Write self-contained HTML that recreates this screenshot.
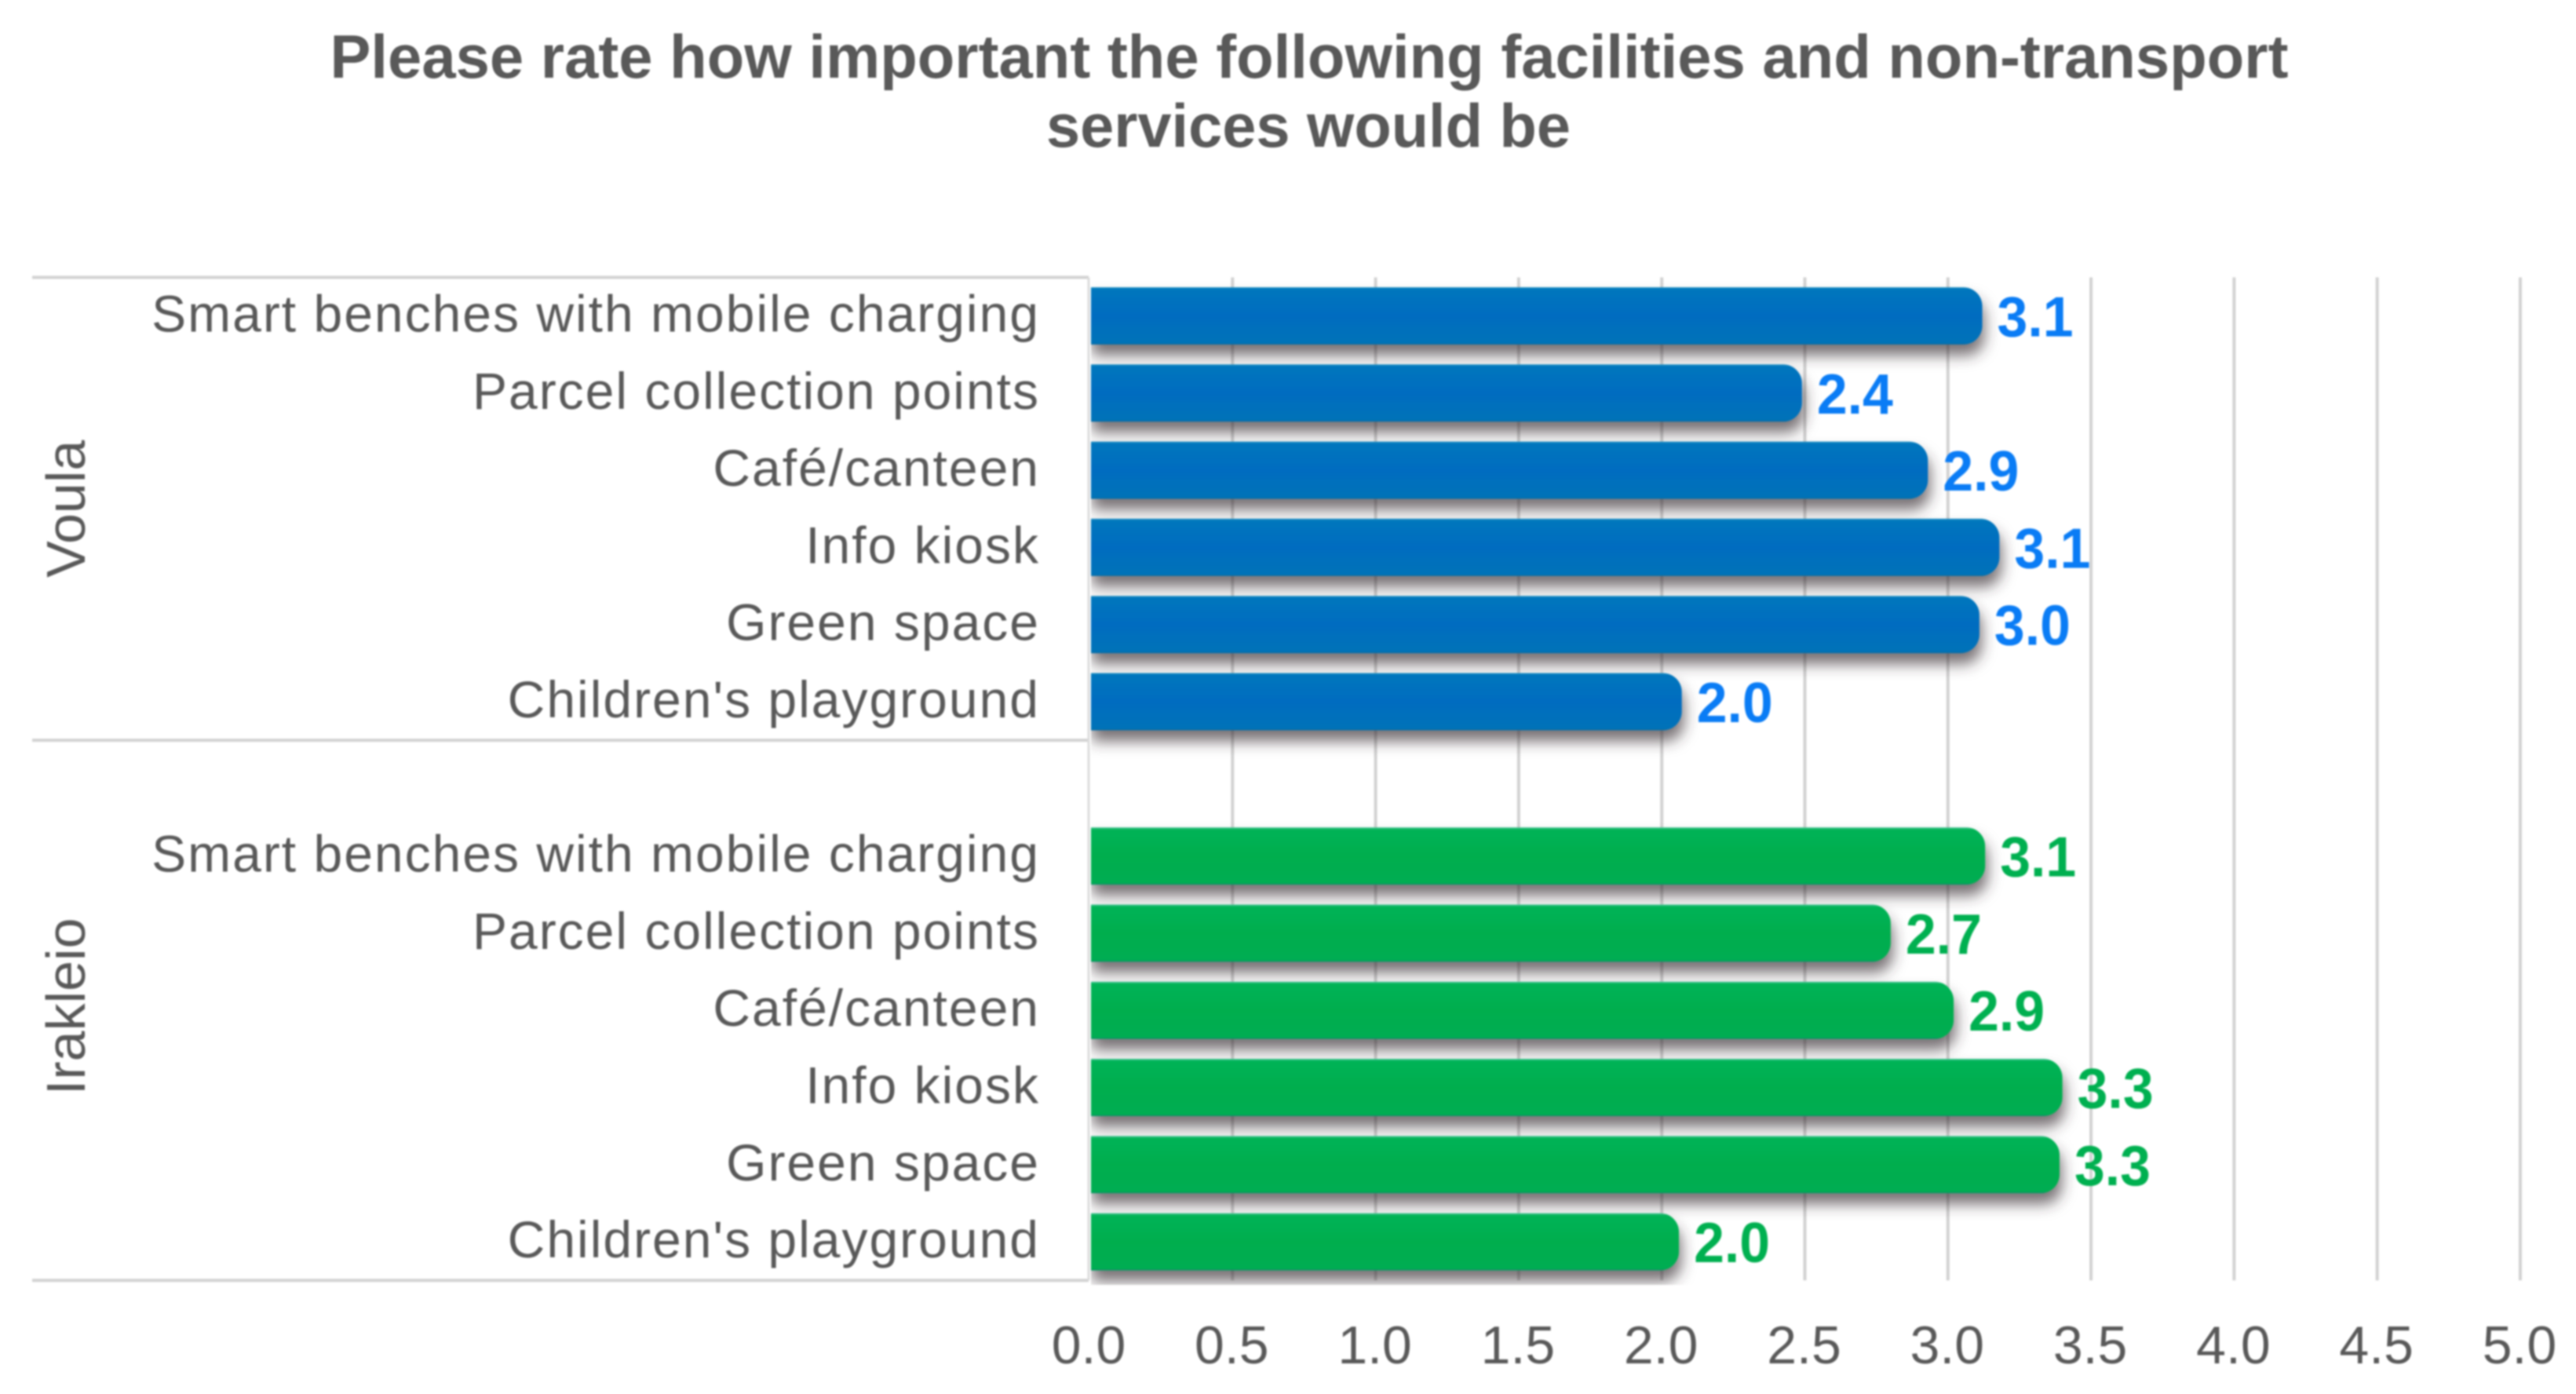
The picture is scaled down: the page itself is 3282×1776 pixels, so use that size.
<!DOCTYPE html>
<html lang="en">
<head>
<meta charset="utf-8">
<title>Facilities and non-transport services rating</title>
<style>
  html, body { margin: 0; padding: 0; background: #ffffff; }
  body { width: 3282px; height: 1776px; overflow: hidden; }
  svg { display: block; filter: blur(1px); }
  text { font-family: "Liberation Sans", Arial, sans-serif; }
</style>
</head>
<body>
<svg id="chart" xmlns="http://www.w3.org/2000/svg" width="3282" height="1776" viewBox="0 0 3282 1776">
  <defs>
    <linearGradient id="blue-fill" x1="0" y1="0" x2="0" y2="1">
      <stop offset="0" stop-color="#1b8fc4"/>
      <stop offset="0.04" stop-color="#0076bd"/>
      <stop offset="0.5" stop-color="#006cc0"/>
      <stop offset="0.97" stop-color="#0073b8"/>
      <stop offset="1" stop-color="#0b6a9e"/>
    </linearGradient>
    <linearGradient id="green-fill" x1="0" y1="0" x2="0" y2="1">
      <stop offset="0" stop-color="#4cc79a"/>
      <stop offset="0.04" stop-color="#00b356"/>
      <stop offset="0.5" stop-color="#00ae4e"/>
      <stop offset="0.97" stop-color="#00ad52"/>
      <stop offset="1" stop-color="#0c8c6a"/>
    </linearGradient>
    <filter id="bar-shadow" x="-5%" y="-20%" width="110%" height="180%">
      <feDropShadow dx="3" dy="14" stdDeviation="9" flood-color="#3a3034" flood-opacity="0.68"/>
    </filter>
    <clipPath id="plot-clip">
      <rect x="1390" y="300" width="1892" height="1337"/>
    </clipPath>
  </defs>
  <rect x="0" y="0" width="3282" height="1776" fill="#ffffff"/>
  <g fill="#595959" font-weight="700" font-size="78" text-anchor="middle">
    <text x="1668" y="99" textLength="2495" lengthAdjust="spacingAndGlyphs">Please rate how important the following facilities and non-transport</text>
    <text x="1667" y="187" textLength="668" lengthAdjust="spacingAndGlyphs">services would be</text>
  </g>
  <g id="grid"></g>
  <g id="frame"></g>
  <g id="bars" clip-path="url(#plot-clip)"></g>
  <g id="value-labels"></g>
  <g id="category-labels"></g>
  <g id="group-labels"></g>
  <g id="tick-labels"></g>
</svg>
<script>
const categories = ["Smart benches with mobile charging", "Parcel collection points", "Café/canteen", "Info kiosk", "Green space", "Children's playground"];
const groupNames = ["Voula", "Irakleio"];
const voulaValues = [3.12, 2.49, 2.93, 3.18, 3.11, 2.07];
const irakleioValues = [3.13, 2.80, 3.02, 3.40, 3.39, 2.06];
const voulaPrinted = ["3.1", "2.4", "2.9", "3.1", "3.0", "2.0"];
const irakleioPrinted = ["3.1", "2.7", "2.9", "3.3", "3.3", "2.0"];
const tickValues = [0, 0.5, 1, 1.5, 2, 2.5, 3, 3.5, 4, 4.5, 5];
const tickLabels = ["0.0", "0.5", "1.0", "1.5", "2.0", "2.5", "3.0", "3.5", "4.0", "4.5", "5.0"];

const NS = "http://www.w3.org/2000/svg";
function xScale(v) { return 1388 + v * 364.6; }
function rowCenter(i) { return 402.5 + i * 98.3; }
function make(tag, attrs, parent) {
  const el = document.createElementNS(NS, tag);
  for (const k in attrs) el.setAttribute(k, attrs[k]);
  parent.appendChild(el);
  return el;
}
function slug(s) { return s.toLowerCase().replace(/[^a-z0-9]+/g, "-").replace(/^-|-$/g, ""); }

const gridLayer = document.getElementById("grid");
const frameLayer = document.getElementById("frame");
const barLayer = document.getElementById("bars");
const valueLayer = document.getElementById("value-labels");
const catLayer = document.getElementById("category-labels");
const groupLayer = document.getElementById("group-labels");
const tickLayer = document.getElementById("tick-labels");

const axisTop = rowCenter(-0.5);
const axisMid = rowCenter(5.5);
const axisBottom = rowCenter(12.5);

tickValues.forEach(function (v, i) {
  if (v > 0) {
    const line = make("line", { x1: xScale(v), x2: xScale(v), y1: axisTop, y2: axisBottom, stroke: "#d2d2d2", "stroke-width": 4 }, gridLayer);
    
    
  }
  const t = make("text", { x: xScale(v) - 1, y: 1737, fill: "#595959", "font-size": 68, "text-anchor": "middle" }, tickLayer);
  t.textContent = tickLabels[i];
  
  
});

[axisTop, axisMid, axisBottom].forEach(function (y) {
  const line = make("line", { x1: 41, x2: 1387, y1: y, y2: y, stroke: "#d2d2d2", "stroke-width": 4 }, frameLayer);
  
  
});
const axisLine = make("line", { x1: 1387, x2: 1387, y1: axisTop, y2: axisBottom, stroke: "#dcdcdc", "stroke-width": 3 }, frameLayer);



function drawGroup(values, printed, firstRow, fill, labelColor, key) {
  const barH = 73;
  const r = 24;
  values.forEach(function (v, i) {
    const cy = rowCenter(firstRow + i);
    const x0 = xScale(0);
    const x1 = xScale(v);
    const top = cy - barH / 2;
    const bot = cy + barH / 2;
    const d = "M" + x0 + "," + top + " H" + (x1 - r) + " A" + r + "," + r + " 0 0 1 " + x1 + "," + (top + r) +
      " V" + (bot - r) + " A" + r + "," + r + " 0 0 1 " + (x1 - r) + "," + bot + " H" + x0 + " Z";
    const bar = make("path", { d: d, fill: fill, filter: "url(#bar-shadow)" }, barLayer);
    
    

    const val = make("text", { x: x1 + 19, y: cy + 26, fill: labelColor, "font-size": 72, "font-weight": 700, textLength: 97, lengthAdjust: "spacingAndGlyphs" }, valueLayer);
    val.textContent = printed[i];
    
    

    const cat = make("text", { x: 1325, y: cy + 20, fill: "#595959", "font-size": 66, "letter-spacing": 2, "text-anchor": "end" }, catLayer);
    cat.textContent = categories[i];
    
    
  });
}
drawGroup(voulaValues, voulaPrinted, 0, "url(#blue-fill)", "#0a7cf5", "voula");
drawGroup(irakleioValues, irakleioPrinted, 7, "url(#green-fill)", "#00b050", "irakleio");

groupNames.forEach(function (name, i) {
  const cy = i === 0 ? rowCenter(2.5) : rowCenter(8.95);
  const t = make("text", { transform: "translate(108," + cy + ") rotate(-90)", fill: "#595959", "font-size": 70, "text-anchor": "middle" }, groupLayer);
  t.textContent = name;
  
  
});
</script>
</body>
</html>
